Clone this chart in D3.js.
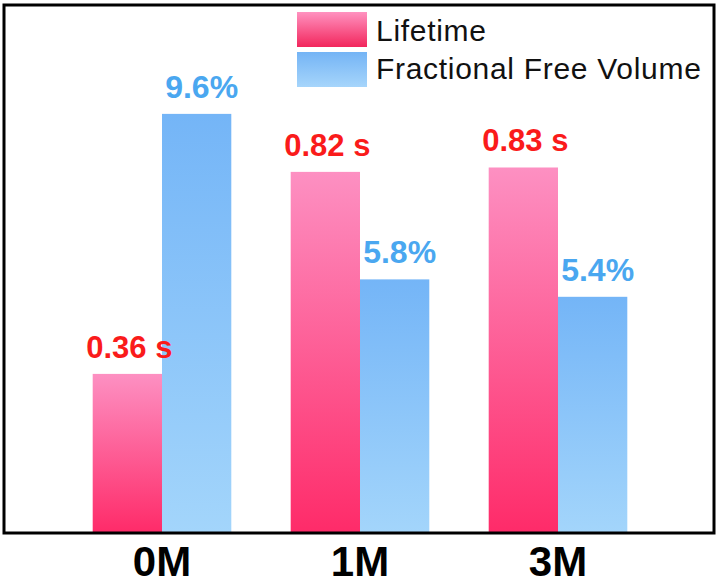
<!DOCTYPE html>
<html>
<head>
<meta charset="utf-8">
<script src="https://cdn.jsdelivr.net/npm/d3@7"></script>
<style>
  html, body { margin: 0; padding: 0; background: #fff; }
  svg { display: block; }
  text { font-family: "Liberation Sans", Arial, sans-serif; }
</style>
</head>
<body>
<svg id="chart" width="719" height="586"></svg>
<script>
// ---- data ----
const categories = ["0M", "1M", "3M"];
const seriesNames = ["Lifetime", "Fractional Free Volume"];
const lifetime = [0.36, 0.82, 0.83];
const lifetimeLabels = ["0.36 s", "0.82 s", "0.83 s"];
const ffv = [9.6, 5.8, 5.4];
const ffvLabels = ["9.6%", "5.8%", "5.4%"];

// ---- layout ----
const frame = { left: 4, top: 5, right: 714, bottom: 533 };
const baseY = 532;

const svg = d3.select("#chart");
const defs = svg.append("defs");

function grad(id, top, bottom) {
  const g = defs.append("linearGradient").attr("id", id)
    .attr("x1", 0).attr("y1", 0).attr("x2", 0).attr("y2", 1);
  g.append("stop").attr("offset", "0%").attr("stop-color", top);
  g.append("stop").attr("offset", "100%").attr("stop-color", bottom);
}
grad("gPink", "#fd90c2", "#fe2b69");
grad("gBlue", "#74b5f7", "#a3d5fb");
grad("gPinkLeg", "#ff92c0", "#f2265c");
grad("gBlueLeg", "#74b4f5", "#a6d5fb");

const x = d3.scaleBand().domain(categories).range([63, 657])
  .paddingInner(0.3).paddingOuter(0.15);
const xs = d3.scaleBand().domain(seriesNames).range([0, x.bandwidth()]);
const yL = d3.scaleLinear().domain([0, 1.2]).range([baseY, 5]);
const yF = d3.scaleLinear().domain([0, 12.1]).range([baseY, 5]);

// bars
const gBars = svg.append("g");
gBars.selectAll("rect.life").data(lifetime).join("rect")
  .attr("class", "life")
  .attr("x", (d, i) => x(categories[i]) + xs(seriesNames[0]))
  .attr("width", xs.bandwidth())
  .attr("y", d => yL(d))
  .attr("height", d => baseY - yL(d))
  .attr("fill", "url(#gPink)");
gBars.selectAll("rect.ffv").data(ffv).join("rect")
  .attr("class", "ffv")
  .attr("x", (d, i) => x(categories[i]) + xs(seriesNames[1]))
  .attr("width", xs.bandwidth())
  .attr("y", d => yF(d))
  .attr("height", d => baseY - yF(d))
  .attr("fill", "url(#gBlue)");

// value labels
const off = 16;
svg.append("g").selectAll("text").data(lifetime).join("text")
  .attr("x", (d, i) => x(categories[i]) + xs(seriesNames[0]) + xs.bandwidth() / 2 + 2)
  .attr("y", d => yL(d) - off)
  .attr("text-anchor", "middle")
  .attr("font-size", 31).attr("font-weight", "bold")
  .attr("fill", "#fa1b1b")
  .text((d, i) => lifetimeLabels[i]);
svg.append("g").selectAll("text").data(ffv).join("text")
  .attr("x", (d, i) => x(categories[i]) + xs(seriesNames[1]) + xs.bandwidth() / 2 + 5)
  .attr("y", d => yF(d) - off)
  .attr("text-anchor", "middle")
  .attr("font-size", 32).attr("font-weight", "bold")
  .attr("fill", "#4aa7f0")
  .text((d, i) => ffvLabels[i]);

// frame
svg.append("rect")
  .attr("x", frame.left).attr("y", frame.top)
  .attr("width", frame.right - frame.left)
  .attr("height", frame.bottom - frame.top)
  .attr("fill", "none").attr("stroke", "#000").attr("stroke-width", 3);

// category axis labels
const xAxis = d3.axisBottom(x).tickSize(0).tickPadding(0);
const ax = svg.append("g").attr("transform", `translate(0,${frame.bottom})`).call(xAxis);
ax.select(".domain").remove();
ax.selectAll("text")
  .attr("dy", null).attr("y", 43)
  .attr("font-size", 42).attr("font-weight", "bold")
  .attr("fill", "#000")
  .style("font-family", '"Liberation Sans", Arial, sans-serif');

// legend
const leg = svg.append("g");
const legFills = ["url(#gPinkLeg)", "url(#gBlueLeg)"];
seriesNames.forEach((name, i) => {
  leg.append("rect").attr("x", 297).attr("y", 12 + i * 40)
    .attr("width", 70).attr("height", 35).attr("fill", legFills[i]);
  leg.append("text").attr("x", 376).attr("y", 41 + i * 37.5)
    .attr("font-size", 30).attr("letter-spacing", 0.7)
    .attr("fill", "#111").text(name);
});
</script>
</body>
</html>
